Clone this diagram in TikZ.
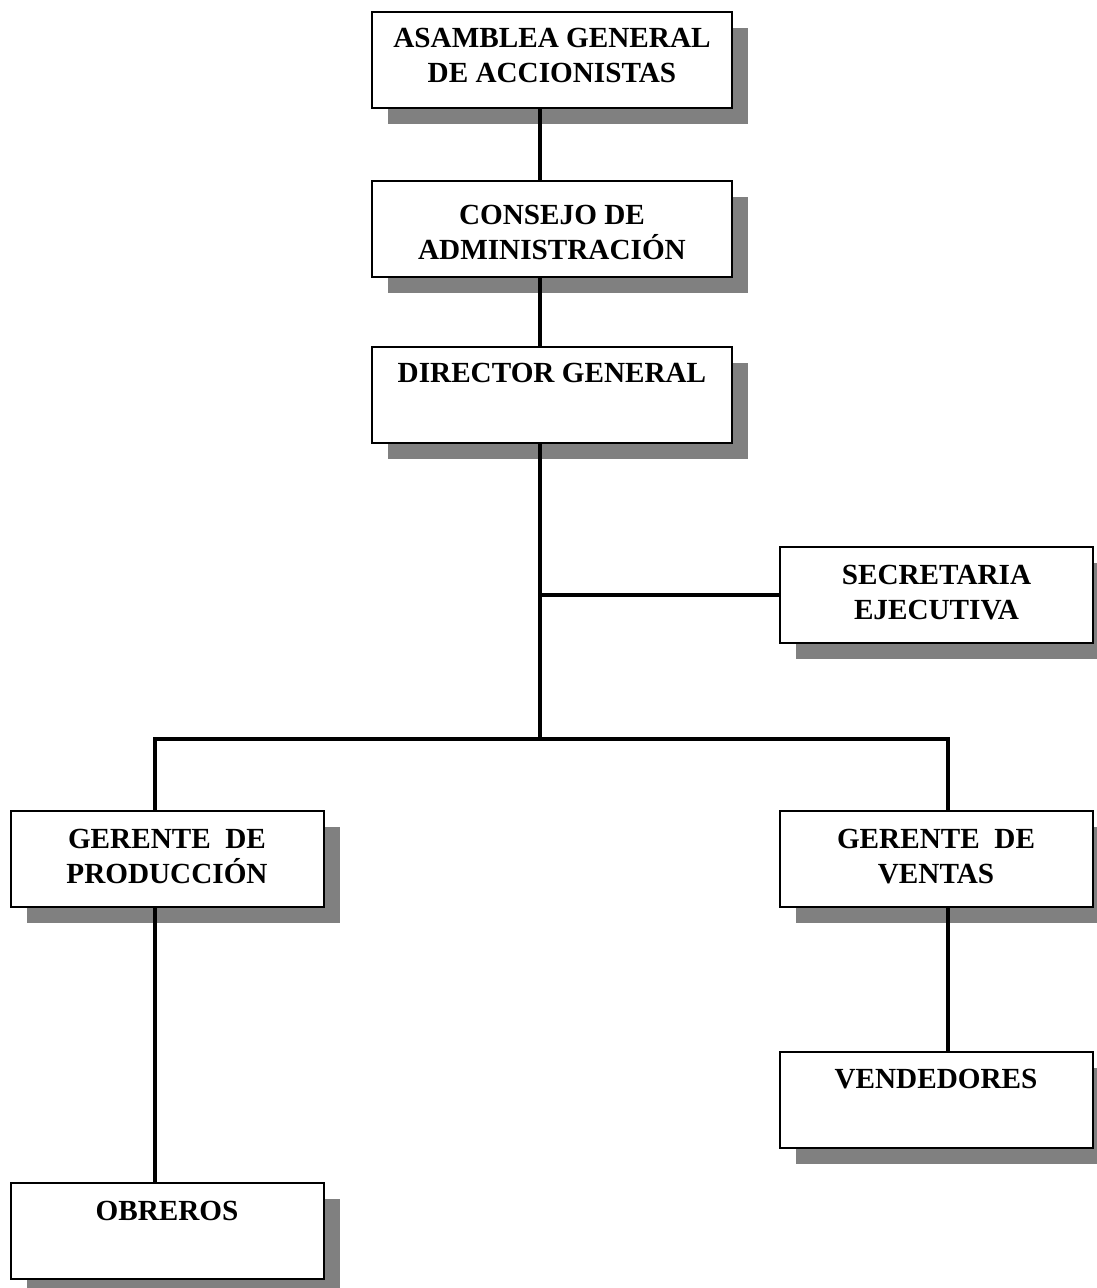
\documentclass[tikz,border=0pt]{standalone}
\usepackage{fontspec}
\setmainfont{Liberation Serif}
\usetikzlibrary{shadows}
\definecolor{shadowgray}{HTML}{808080}
\begin{document}
\begin{tikzpicture}[x=1pt,y=1pt,
  unit box/.style={draw=black, line width=2pt, fill=white, inner sep=0pt,
    minimum height=96pt,
    drop shadow={shadow xshift=16pt, shadow yshift=-16pt, fill=shadowgray, opacity=1}},
  wide box/.style={unit box, minimum width=360pt},
  narrow box/.style={unit box, minimum width=313pt},
  lbl/.style={anchor=base, align=center, inner sep=0pt,
    font=\fontsize{29.2}{35}\selectfont\bfseries},
  link/.style={line width=3.5pt}]
\useasboundingbox (0,0) rectangle (1096,-1288);

% boxes of the chart
\node[wide box]   (asamblea) at (552,-59.5)  {};
\node[wide box]   (consejo)  at (552,-228.5) {};
\node[wide box]   (director) at (552,-394.5) {};
\node[narrow box] (secre)    at (936.5,-595) {};
\node[narrow box] (prod)     at (167,-859)   {};
\node[narrow box] (ventas)   at (936,-859)   {};
\node[narrow box] (vended)   at (936,-1099.5){};
\node[narrow box] (obreros)  at (167,-1230.5){};

% box titles (base anchor sits on the last line)
\node[lbl] (tasamblea) at ([yshift=-72pt]asamblea.north) {ASAMBLEA GENERAL\\DE ACCIONISTAS};
\node[lbl] (tconsejo)  at ([yshift=-80pt]consejo.north)  {CONSEJO DE\\ADMINISTRACIÓN};
\node[lbl] (tdirector) at ([yshift=-37pt]director.north) {DIRECTOR GENERAL};
\node[lbl] (tsecre)    at ([yshift=-73pt]secre.north)    {SECRETARIA\\EJECUTIVA};
\node[lbl] (tprod)     at ([yshift=-73pt]prod.north)     {GERENTE\ \ DE\\PRODUCCIÓN};
\node[lbl] (tventas)   at ([yshift=-73pt]ventas.north)   {GERENTE\ \ DE\\VENTAS};
\node[lbl] (tvended)   at ([yshift=-38pt]vended.north)   {VENDEDORES};
\node[lbl] (tobreros)  at ([yshift=-39pt]obreros.north)  {OBREROS};

% connector guide points
\coordinate (trunk) at (540,0);
\coordinate (hub)   at (540,-739);
\coordinate (lp)    at (155,-739);
\coordinate (lv)    at (948,-739);

% connectors
\draw[link] (asamblea.south -| trunk) -- (consejo.north -| trunk);
\draw[link] (consejo.south -| trunk) -- (director.north -| trunk);
\draw[link] (director.south -| trunk) -- (hub);
\draw[link] (secre.west -| trunk) -- (secre.west);
\draw[link] (lp |- prod.north) -- (lp) -- (lv) -- (lv |- ventas.north);
\draw[link] (lp |- prod.south) -- (lp |- obreros.north);
\draw[link] (lv |- ventas.south) -- (lv |- vended.north);
\end{tikzpicture}
\end{document}
